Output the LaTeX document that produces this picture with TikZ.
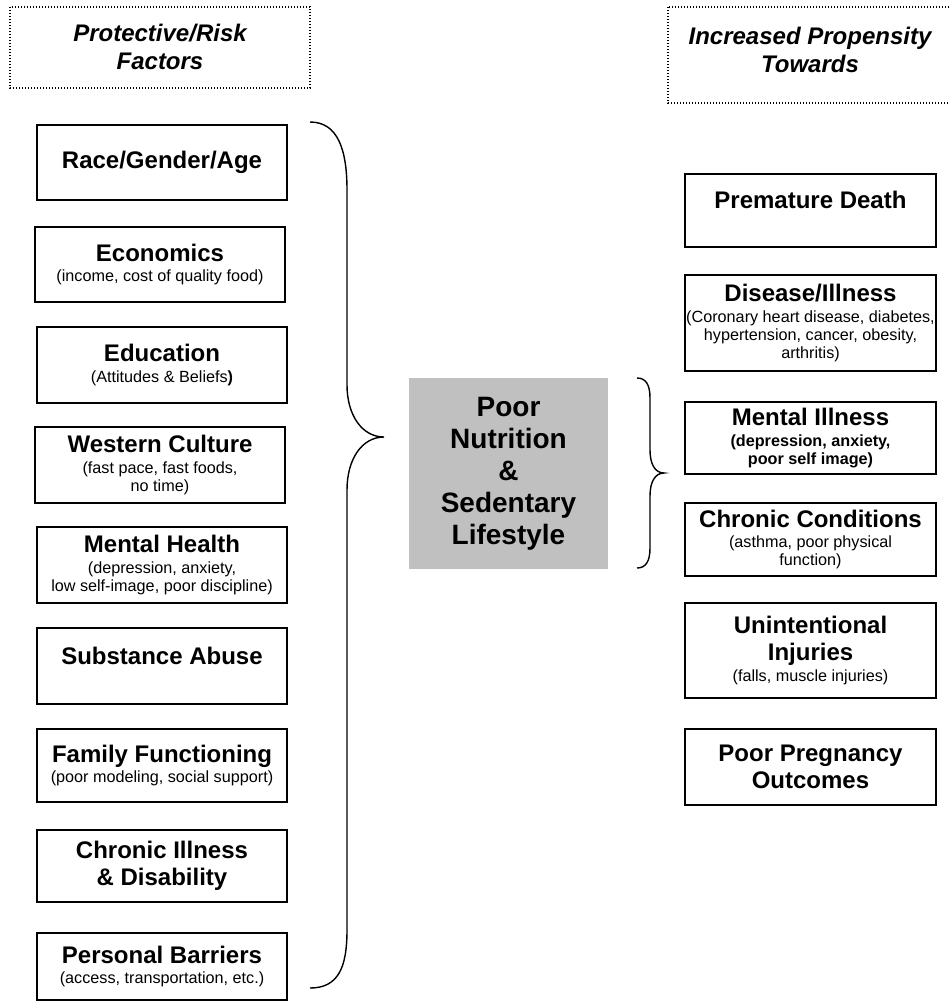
\documentclass[tikz,border=0pt]{standalone}
\usepackage{fontspec}
\setmainfont{Liberation Sans}
\definecolor{coregray}{RGB}{192,192,192}
\newcommand{\detail}[1]{{\mdseries\fontsize{8.1}{9}\selectfont\vspace{1.2pt}#1\par}}

\begin{document}
\begin{tikzpicture}[x=0.5pt,y=-0.5pt,
  factor/.style={draw, line width=0.75pt, inner xsep=0.5pt, inner ysep=0pt,
    text width=124pt, minimum width=125pt, minimum height=37.5pt, align=flush center,
    font=\fontsize{12}{13.5}\selectfont\bfseries},
  outcome/.style={factor, text width=124.5pt, minimum width=125.5pt},
  heading/.style={align=center, font=\fontsize{12}{14}\selectfont\bfseries\itshape},
  dotframe/.style={line width=0.6pt, dash pattern=on 0.6pt off 0.9pt},
  brace/.style={line width=0.7pt}]
\useasboundingbox (0,0) rectangle (949,1001);

% headings
\node (riskhead) [heading] at (160,47) {Protective/Risk\\Factors};
\draw [dotframe] (10,7) rectangle (310,88);
\node (propenhead) [heading] at (810,50) {Increased Propensity\\Towards};
\draw [dotframe] (668,7) rectangle (960,103);

% protective / risk factors
\node (race) [factor] at (162,162.5) {Race/Gender/Age};
\node (econ) [factor] at (160,264.5) {Economics\par
  \detail{(income, cost of quality food)}};
\node (educ) [factor, minimum height=38pt] at (162,365) {Education\par
  \detail{(Attitudes \& Beliefs{\bfseries )}}};
\node (west) [factor, minimum height=38pt] at (160,465) {Western Culture\par
  \detail{(fast pace, fast foods,\\ no time)}};
\node (mental) [factor, minimum height=38pt] at (162,565) {Mental Health\par
  \detail{(depression, anxiety,\\ low self-image, poor discipline)}};
\node (subst) [factor, minimum height=38pt] at (162,666) {Substance Abuse\par
  \detail{~}};
\node (family) [factor, minimum height=36.5pt] at (162,765.5) {Family Functioning\par
  \detail{(poor modeling, social support)}};
\node (chronic) [factor, minimum height=36pt] at (162,866) {Chronic Illness\\ \& Disability};
\node (barrier) [factor, minimum height=33.5pt] at (162,966.5) {Personal Barriers\par
  \detail{(access, transportation, etc.)}};

% centre
\node (lifestyle) [fill=coregray, minimum width=99.5pt, minimum height=95.5pt,
  align=center, font=\fontsize{14}{16}\selectfont\bfseries] at (508.5,473.5)
  {Poor\\Nutrition\\\&\\Sedentary\\Lifestyle};

% outcomes
\node (death) [outcome, minimum height=36.5pt] at (810.5,210.5) {Premature Death\par
  \detail{~}};
\node (disease) [outcome, minimum height=48pt] at (810.5,323) {Disease/Illness\par
  \detail{(Coronary heart disease, diabetes,\\ hypertension, cancer, obesity,\\ arthritis)}};
\node (illness) [outcome, minimum height=36pt] at (810.5,438) {Mental Illness\par
  \detail{\bfseries (depression, anxiety,\\ poor self image)}};
\node (cond) [outcome, minimum height=36.5pt] at (810.5,539.5) {Chronic Conditions\par
  \detail{(asthma, poor physical\\ function)}};
\node (injury) [outcome, minimum height=47.5pt] at (810.5,650.5) {Unintentional\\ Injuries\par
  \detail{(falls, muscle injuries)}};
\node (pregnancy) [outcome, minimum height=38pt] at (810.5,767) {Poor Pregnancy\\ Outcomes};

% braces
\draw [brace] (310,122) .. controls (338,122) and (347,150) .. (347,190)
  -- (347,385) .. controls (347,415) and (362,437) .. (384,437)
  .. controls (362,437) and (347,459) .. (347,490)
  -- (347,930) .. controls (347,968) and (338,988) .. (310,988);
\draw [brace] (637,378) .. controls (646,378) and (650,385) .. (650,398)
  -- (650,450) .. controls (650,464) and (655,473) .. (664,473)
  .. controls (655,473) and (650,482) .. (650,496)
  -- (650,548) .. controls (650,561) and (646,568) .. (637,568);
\end{tikzpicture}
\end{document}
